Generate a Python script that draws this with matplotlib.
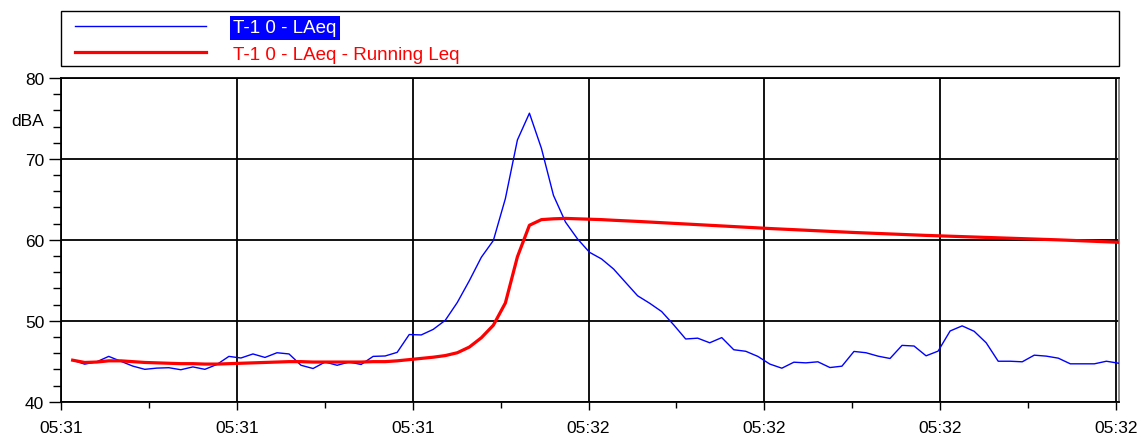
import matplotlib
matplotlib.use("Agg")
import matplotlib.pyplot as plt
from matplotlib.patches import Rectangle
import numpy as np

plt.rcParams['font.family'] = ['Liberation Sans', 'DejaVu Sans']

# one-second LAeq samples and the running Leq over the same samples
laeq = [45.13, 44.64, 44.93, 45.6, 45.0, 44.4, 44.0, 44.15, 44.2, 43.95,
        44.3, 44.0, 44.6, 45.6, 45.4, 45.9, 45.47, 46.05, 45.9, 44.5,
        44.1, 44.9, 44.5, 44.9, 44.6, 45.6, 45.65, 46.1, 48.3, 48.25,
        48.94, 50.06, 52.26, 54.95, 57.85, 59.92, 65.1, 72.34, 75.65, 71.3,
        65.5, 62.2, 60.12, 58.46, 57.64, 56.4, 54.74, 53.09, 52.17, 51.14,
        49.5, 47.75, 47.85, 47.28, 47.92, 46.42, 46.23, 45.6, 44.65, 44.14,
        44.88, 44.8, 44.93, 44.22, 44.39, 46.21, 46.05, 45.63, 45.34, 46.96,
        46.88, 45.67, 46.25, 48.74, 49.37, 48.7, 47.28, 45.0, 45.0, 44.93,
        45.75, 45.63, 45.38, 44.68, 44.68, 44.68, 45.0, 44.76]
running_leq = [45.13, 44.85, 44.9, 45.05, 45.05, 44.95, 44.85, 44.8, 44.75, 44.7,
               44.7, 44.65, 44.65, 44.7, 44.75, 44.8, 44.85, 44.9, 44.95, 44.95,
               44.9, 44.9, 44.9, 44.9, 44.9, 44.95, 44.95, 45.05, 45.2, 45.35,
               45.5, 45.7, 46.05, 46.75, 47.9, 49.45, 52.2, 57.9, 61.8, 62.5,
               62.6, 62.65, 62.6, 62.55, 62.5, 62.42, 62.35, 62.28, 62.2, 62.12,
               62.04, 61.96, 61.88, 61.8, 61.72, 61.64, 61.56, 61.48, 61.4, 61.33,
               61.26, 61.19, 61.12, 61.05, 60.98, 60.91, 60.85, 60.79, 60.73, 60.67,
               60.61, 60.55, 60.5, 60.45, 60.4, 60.35, 60.3, 60.25, 60.2, 60.15,
               60.1, 60.05, 60.0, 59.94, 59.88, 59.82, 59.76, 59.7]
tick_labels = ["05:31", "05:31", "05:31", "05:32", "05:32", "05:32", "05:32"]

x = np.arange(len(laeq))
x_major = [-0.97, 13.66, 28.29, 42.92, 57.55, 72.18, 86.81]
x_minor = [(a + b) / 2 for a, b in zip(x_major[:-1], x_major[1:])]

fig = plt.figure(figsize=(11.41, 4.39), dpi=100)
ax = fig.add_axes([61 / 1141, 1 - 402.7 / 439, 1058 / 1141, 323.7 / 439])

l1, = ax.plot(x, laeq, color='#0000ff', lw=1.0, label='T-1 0 - LAeq', zorder=3)
l2, = ax.plot(x, running_leq, color='#ff0000', lw=2.3, label='T-1 0 - LAeq - Running Leq', zorder=4)

ax.set_xlim(-0.97, 87.05)
ax.set_ylim(40, 80)
ax.set_xticks(x_major)
ax.set_xticklabels(tick_labels)
ax.set_xticks(x_minor, minor=True)
ax.set_yticks(np.arange(40, 81, 10))
ax.set_yticks(np.arange(40, 81, 2), minor=True)
ax.tick_params(axis='both', which='major', labelsize=12.5, color='black', width=1.0)
ax.tick_params(axis='y', which='major', length=9, pad=3)
ax.tick_params(axis='y', which='minor', length=5.5, width=1.0)
ax.tick_params(axis='x', which='major', length=6, pad=7)
ax.tick_params(axis='x', which='minor', length=4, width=1.0)
ax.grid(True, which='major', color='black', lw=1.3)
for side in ['left', 'bottom', 'top']:
    ax.spines[side].set_color('black')
    ax.spines[side].set_linewidth(1.3)
ax.spines['right'].set_color('#808080')
ax.spines['right'].set_linewidth(1.3)

fig.text(44 / 1141, 1 - 121 / 439, 'dBA', ha='right', va='center', fontsize=12.5)

# legend box across the top
fig.patches.append(Rectangle((61 / 1141, 1 - 67 / 439), 1058 / 1141, 55 / 439,
                             transform=fig.transFigure, facecolor='white',
                             edgecolor='black', lw=1.0))
leg = fig.legend(handles=[l1, l2], loc='upper left', bbox_to_anchor=(75 / 1141, 1 - 20 / 439),
                 frameon=False, fontsize=13.5, handlelength=7.0, handletextpad=1.45,
                 labelspacing=0.5, borderpad=0, borderaxespad=0)
t1, t2 = leg.get_texts()
t1.set_color('white')
t1.set_bbox(dict(facecolor='#0000ff', edgecolor='none', pad=2.5))
t2.set_color('#ff0000')

fig.savefig('out.png', dpi=100)
